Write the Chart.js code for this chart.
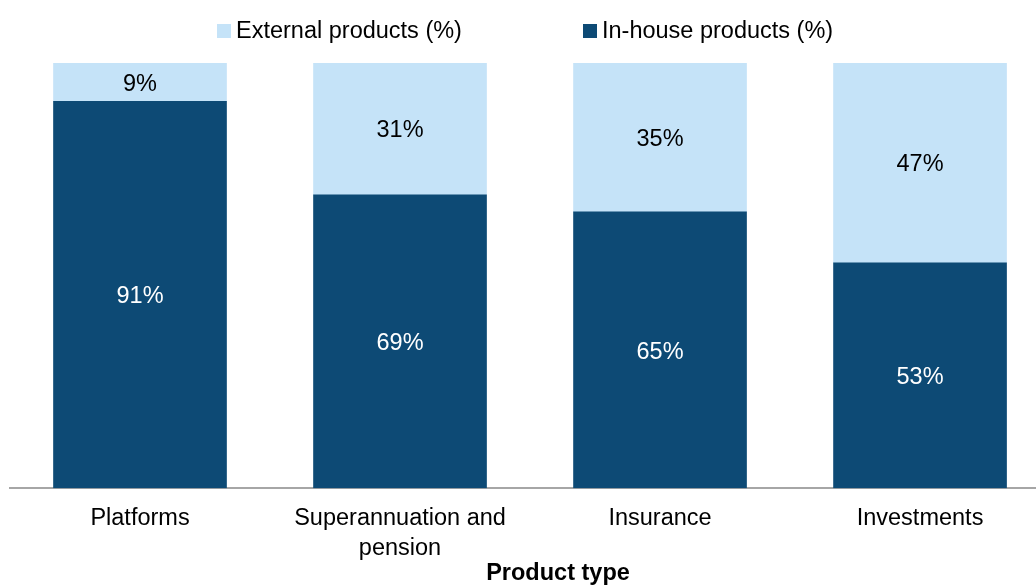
<!DOCTYPE html>
<html>
<head>
<meta charset="utf-8">
<script src="https://cdn.jsdelivr.net/npm/chart.js@4.4.1/dist/chart.umd.min.js"></script>
<style>
  html, body { margin: 0; padding: 0; background: #fff; }
  #wrap { position: relative; width: 1036px; height: 585px; }
  #legend {
    position: absolute; top: 17px; left: 217px; display: flex;
    font: 23.5px "Liberation Sans", Arial, sans-serif; color: #000; white-space: nowrap;
  }
  .item { display: flex; align-items: center; }
  .item + .item { margin-left: 121px; }
  .swatch { width: 14px; height: 14px; margin-right: 5px; }
</style>
</head>
<body>
<div id="wrap">
  <canvas id="productChart" width="1036" height="585"></canvas>
  <div id="legend"></div>
</div>
<script>
// ---- data ----
const categories = ['Platforms', 'Superannuation and pension', 'Insurance', 'Investments'];
const tickLabels = [['Platforms'], ['Superannuation and', 'pension'], ['Insurance'], ['Investments']];
const inHouse = [91, 69, 65, 53];
const external = [9, 31, 35, 47];
const seriesNames = ['In-house products (%)', 'External products (%)'];
const axisTitle = 'Product type';

const DARK = '#0d4a75';
const LIGHT = '#c5e3f8';
const FONT = '"Liberation Sans", Arial, sans-serif';

// 百分比标签，画在每段柱子中间
const segmentLabels = {
    id: 'segmentLabels',
    afterDatasetsDraw(chart) {
        const ctx = chart.ctx;
        ctx.save();
        ctx.font = '23.5px ' + FONT;
        ctx.textAlign = 'center';
        ctx.textBaseline = 'middle';
        chart.data.datasets.forEach((ds, di) => {
            const meta = chart.getDatasetMeta(di);
            meta.data.forEach((bar, i) => {
                ctx.fillStyle = ds.labelColor;
                ctx.fillText(ds.data[i].y + '%', bar.x, (bar.y + bar.base) / 2 + 2);
            });
        });
        ctx.restore();
    }
};

// x 轴标题（原图里略偏右）
const axisTitlePlugin = {
    id: 'axisTitlePlugin',
    afterDraw(chart) {
        const { ctx, chartArea } = chart;
        const xs = chart.scales.x;
        ctx.save();
        ctx.font = 'bold 23.5px ' + FONT;
        ctx.fillStyle = '#000';
        ctx.textAlign = 'center';
        ctx.textBaseline = 'middle';
        ctx.fillText(axisTitle, (chartArea.left + chartArea.right) / 2 + 35, xs.bottom - 5);
        ctx.restore();
    }
};

const toPoints = arr => arr.map((v, i) => ({ x: i, y: v }));

const chart = new Chart(document.getElementById('productChart'), {
    type: 'bar',
    data: {
        datasets: [
            { label: seriesNames[0], data: toPoints(inHouse), backgroundColor: DARK, labelColor: '#fff', barThickness: 173 },
            { label: seriesNames[1], data: toPoints(external), backgroundColor: LIGHT, labelColor: '#000', barThickness: 173 }
        ]
    },
    options: {
        responsive: false,
        animation: false,
        layout: { padding: { left: 10, right: 0, top: 63, bottom: 6 } },
        scales: {
            x: {
                type: 'linear',
                stacked: true,
                min: -0.5,
                max: 3.446,
                offset: false,
                afterBuildTicks: s => { s.ticks = categories.map((c, i) => ({ value: i })); },
                grid: { display: false, drawTicks: false },
                border: { display: true, color: '#a6a6a6', width: 2 },
                ticks: {
                    padding: 16,
                    color: '#000',
                    maxRotation: 0,
                    autoSkip: false,
                    font: { family: FONT, size: 23.5, lineHeight: 1.25 },
                    callback: v => tickLabels[v]
                }
            },
            y: {
                display: false,
                stacked: true,
                min: 0,
                max: 100
            }
        },
        plugins: {
            legend: { display: false },
            tooltip: { enabled: false }
        }
    },
    plugins: [segmentLabels, axisTitlePlugin]
});

// 图例：外部产品在前
const legendEl = document.getElementById('legend');
[1, 0].forEach(di => {
    const ds = chart.data.datasets[di];
    const item = document.createElement('div');
    item.className = 'item';
    item.innerHTML = `<span class="swatch" style="background:${ds.backgroundColor}"></span><span>${ds.label}</span>`;
    legendEl.appendChild(item);
});
</script>
</body>
</html>
